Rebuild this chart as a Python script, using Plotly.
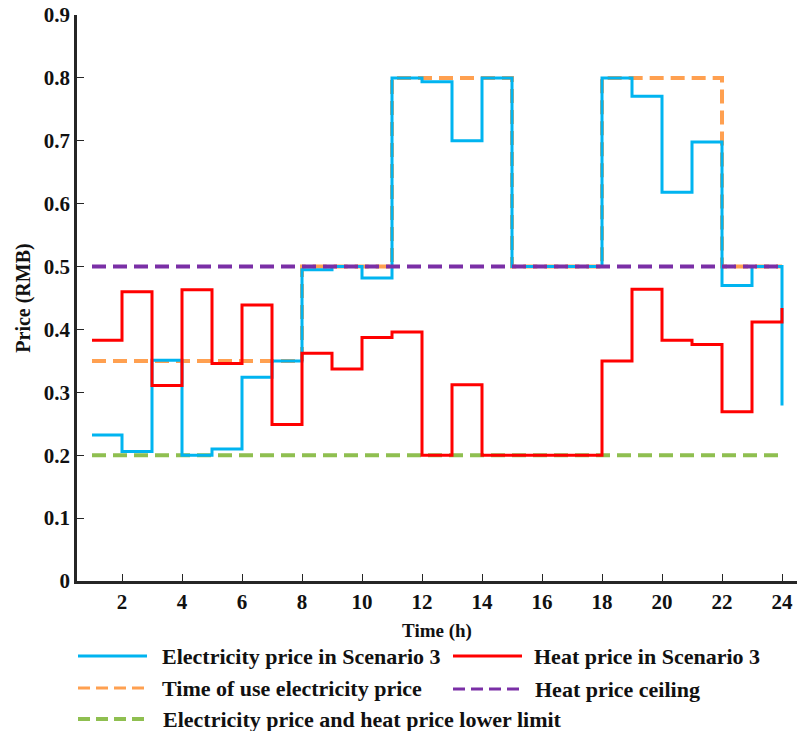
import plotly.graph_objects as go

hours = list(range(1, 25))
elec_s3 = [0.232, 0.206, 0.351, 0.200, 0.210, 0.324, 0.350, 0.495, 0.500, 0.482,
           0.800, 0.794, 0.700, 0.800, 0.500, 0.500, 0.500, 0.800, 0.771, 0.618,
           0.698, 0.470, 0.500, 0.279]
heat_s3 = [0.383, 0.460, 0.311, 0.463, 0.346, 0.439, 0.249, 0.362, 0.337, 0.387,
           0.396, 0.200, 0.312, 0.200, 0.200, 0.200, 0.200, 0.350, 0.464, 0.383,
           0.376, 0.269, 0.412, 0.434]
tou_price = [0.35] * 7 + [0.5] * 3 + [0.8] * 4 + [0.5] * 3 + [0.8] * 4 + [0.5] * 3
heat_ceiling = [0.5] * 24
lower_limit = [0.2] * 24

y_ticks = [0, 0.1, 0.2, 0.3, 0.4, 0.5, 0.6, 0.7, 0.8, 0.9]
y_tick_text = ["0", "0.1", "0.2", "0.3", "0.4", "0.5", "0.6", "0.7", "0.8", "0.9"]
x_ticks = list(range(2, 25, 2))

names = ["Electricity price in Scenario 3", "Heat price in Scenario 3",
         "Time of use electricity price", "Heat price ceiling",
         "Electricity price and heat price lower limit"]

BLUE = "#00B4F0"
RED = "#FF0000"
ORANGE = "#FFA050"
PURPLE = "#7A2FA6"
GREEN = "#8FBF50"

FONT = "Liberation Serif"
W, H = 800, 731
ML, MR, MT, MB = 77, 3, 15, 150
PW, PH = W - ML - MR, H - MT - MB

fig = go.Figure()
fig.add_trace(go.Scatter(x=hours, y=lower_limit, mode="lines", line_shape="hv",
                         line=dict(color=GREEN, width=4, dash="14px,7px"), name=names[4],
                         showlegend=False))
fig.add_trace(go.Scatter(x=hours, y=tou_price, mode="lines", line_shape="hv",
                         line=dict(color=ORANGE, width=4, dash="14px,7px"), name=names[2],
                         showlegend=False))
fig.add_trace(go.Scatter(x=hours, y=elec_s3, mode="lines", line_shape="hv",
                         line=dict(color=BLUE, width=3), name=names[0], showlegend=False))
fig.add_trace(go.Scatter(x=hours, y=heat_s3, mode="lines", line_shape="hv",
                         line=dict(color=RED, width=3), name=names[1], showlegend=False))
fig.add_trace(go.Scatter(x=hours, y=heat_ceiling, mode="lines", line_shape="hv",
                         line=dict(color=PURPLE, width=4, dash="14px,7px"), name=names[3],
                         showlegend=False))


def px_x(px):
    return (px - ML) / PW


def px_y(py):
    return (H - MB - py) / PH


legend_items = [
    (names[0], BLUE, "solid", 78, 656, 3, 82),
    (names[1], RED, "solid", 453, 656, 3, 79),
    (names[2], ORANGE, "dash", 78, 688, 3, 82),
    (names[3], PURPLE, "dash", 453, 689, 3, 80),
    (names[4], GREEN, "dash", 78, 719, 4, 83),
]
shapes = []
annotations = []
for name, col, dash, x0, yc, w, off in legend_items:
    shapes.append(dict(type="line", xref="paper", yref="paper",
                       x0=px_x(x0), x1=px_x(x0 + 69), y0=px_y(yc), y1=px_y(yc),
                       line=dict(color=col, width=w,
                                 dash="solid" if dash == "solid" else "12px,6px")))
    annotations.append(dict(text=name, xref="paper", yref="paper",
                            x=px_x(x0 + off), y=px_y(yc), xanchor="left", yanchor="middle",
                            showarrow=False,
                            font=dict(family=FONT, size=22, color="#111111", weight="bold")))

fig.update_layout(
    width=W, height=H,
    margin=dict(l=ML, r=MR, t=MT, b=MB),
    plot_bgcolor="white", paper_bgcolor="white",
    showlegend=False,
    shapes=shapes, annotations=annotations,
    font=dict(family=FONT, color="#111111"),
    xaxis=dict(range=[0.5, 24.5], tickvals=x_ticks, showgrid=False, zeroline=False,
               showline=True, linecolor="#262626", linewidth=2.5,
               ticks="inside", ticklen=7, tickwidth=1.2, tickcolor="#262626",
               tickfont=dict(family=FONT, size=21, color="#111111", weight="bold"),
               title=dict(text="Time (h)", standoff=11,
                          font=dict(family=FONT, size=19, color="#111111", weight="bold"))),
    yaxis=dict(range=[0, 0.9], tickvals=y_ticks, ticktext=y_tick_text, showgrid=False,
               zeroline=False, showline=True, linecolor="#262626", linewidth=2.5,
               ticks="inside", ticklen=7, tickwidth=1.2, tickcolor="#262626",
               tickfont=dict(family=FONT, size=21, color="#111111", weight="bold"),
               title=dict(text="Price (RMB)", standoff=8,
                          font=dict(family=FONT, size=20, color="#111111", weight="bold"))),
)

fig.write_html("out.html")
